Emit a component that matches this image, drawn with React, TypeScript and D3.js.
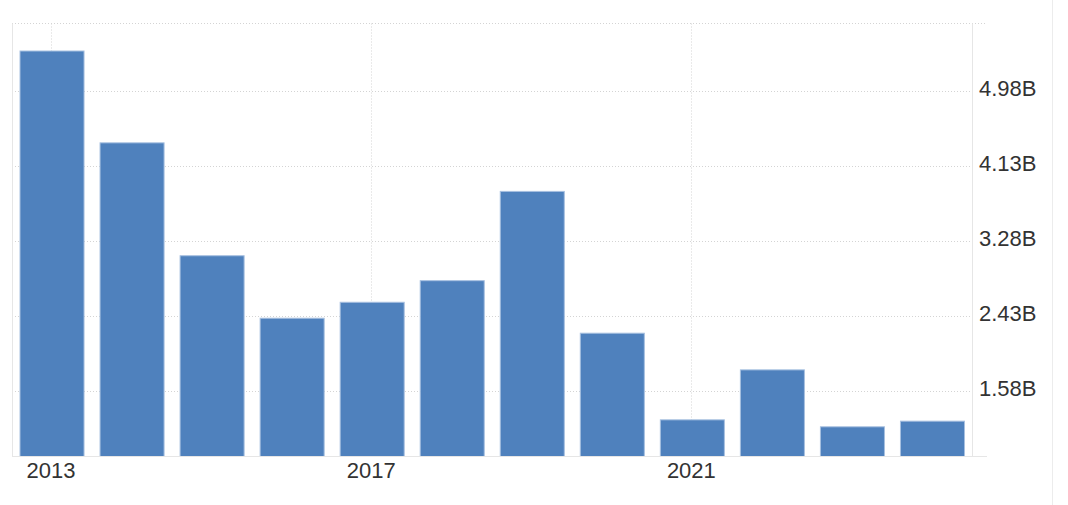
import React from "react";
import * as d3 from "d3";

const years = ["2013","2014","2015","2016","2017","2018","2019","2020","2021","2022","2023","2024"];
const values = [5.433, 4.391, 3.110, 2.401, 2.582, 2.827, 3.840, 2.231, 1.248, 1.815, 1.169, 1.233];
const yTicks = [1.58, 2.43, 3.28, 4.13, 4.98];
const xTickLabels = ["2013", "2017", "2021"];
const yDomain = [0.832, 5.745];

const W = 1068, H = 505;
const left = 12, right = 972.5, top = 23.5, bottom = 456.5;

export default function App() {
  const x = d3.scaleBand<string>().domain(years).range([left, right]).paddingInner(0.2).paddingOuter(0.1);
  const y = d3.scaleLinear().domain(yDomain).range([bottom, top]);
  const font = "'Liberation Sans', Arial, sans-serif";
  return (
    <svg width={W} height={H} style={{ position: "absolute", left: 0, top: 0, background: "#fff" }}>
      <line x1={1052.5} x2={1052.5} y1={0} y2={H} stroke="#ececec" strokeWidth={1} />
      {yTicks.map((t) => (
        <line key={t} x1={left} x2={right} y1={Math.round(y(t)) + 0.5} y2={Math.round(y(t)) + 0.5}
          stroke="#d4d4d4" strokeDasharray="1,2" />
      ))}
      {xTickLabels.map((l) => {
        const cx = Math.round(x(l)! + x.bandwidth() / 2) - 0.5;
        return <line key={l} x1={cx} x2={cx} y1={top} y2={bottom} stroke="#d4d4d4" strokeDasharray="1,2" />;
      })}
      <line x1={left} x2={987} y1={top} y2={top} stroke="#d4d4d4" strokeDasharray="1,2" />
      <line x1={left + 0.5} x2={left + 0.5} y1={top} y2={bottom} stroke="#e6e6e6" />
      <line x1={right} x2={right} y1={top} y2={bottom} stroke="#e6e6e6" />
      {years.map((yr, i) => (
        <rect key={yr} x={x(yr)!} y={y(values[i])} width={x.bandwidth()} height={bottom - y(values[i])}
          fill="#4f81bd" stroke="#a7c0e0" strokeWidth={1} />
      ))}
      <line x1={left} x2={987} y1={bottom} y2={bottom} stroke="#e6e6e6" />
      {yTicks.map((t) => (
        <text key={t} x={979} y={y(t) + 5.5} fontFamily={font} fontSize={22} fill="#333">
          {t.toFixed(2) + "B"}
        </text>
      ))}
      {xTickLabels.map((l) => (
        <text key={l} x={x(l)! + x.bandwidth() / 2 - 1} y={bottom + 21} textAnchor="middle" fontFamily={font} fontSize={22} fill="#333">
          {l}
        </text>
      ))}
    </svg>
  );
}
